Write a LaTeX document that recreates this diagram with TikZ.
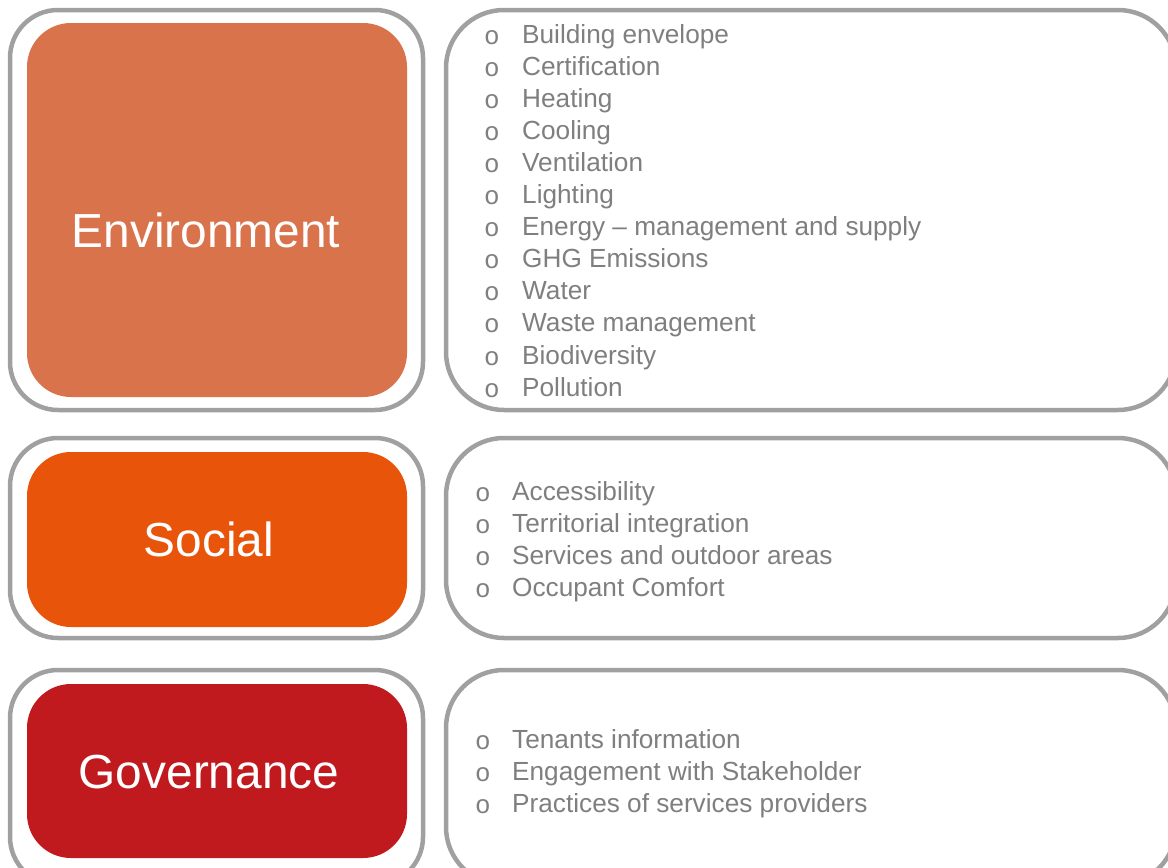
\documentclass[tikz,border=0pt]{standalone}
\usepackage{fontspec}
\setmainfont{Liberation Sans}
\newfontfamily\bulletfont{Liberation Mono}
\usetikzlibrary{positioning}
\definecolor{framegray}{HTML}{A0A0A0}
\definecolor{itemgray}{HTML}{7F7F7F}
\definecolor{envcolor}{HTML}{D8734C}
\definecolor{soccolor}{HTML}{E8540A}
\definecolor{govcolor}{HTML}{C0191E}
\tikzset{
  outerbox/.style={draw=framegray, line width=4.5bp, rounded corners=48bp, fill=white},
  itembox/.style={draw=framegray, line width=4.5bp, rounded corners=58bp, fill=white},
  pillarbox/.style={rounded corners=44bp, draw=none},
  pillar/.style={text=white, font=\fontsize{48}{56}\selectfont, anchor=base},
  itemtext/.style={text=itemgray, font=\fontsize{26.3}{32}\selectfont, anchor=base west, inner sep=0pt},
  bullettext/.style={text=itemgray, font=\bulletfont\fontsize{26}{32}\selectfont, anchor=base, inner sep=0pt}
}

\begin{document}
\begin{tikzpicture}[x=1bp,y=-1bp]
\useasboundingbox (0,0) rectangle (1168,868);
\clip (0,0) rectangle (1168,868);
% the frames
\draw[outerbox] (10,10) rectangle (423,410);
\draw[itembox] (446,10) rectangle (1176,410);
\draw[outerbox] (10,438) rectangle (423,638);
\draw[itembox] (446,438) rectangle (1176,638);
\draw[outerbox] (10,670) rectangle (423,885);
\draw[itembox] (446,670) rectangle (1176,885);
% the coloured pillars
\fill[pillarbox, envcolor] (27,23) rectangle (407,397);
\fill[pillarbox, soccolor] (27,452) rectangle (407,627);
\fill[pillarbox, govcolor] (27,684) rectangle (407,858);
\node[pillar] (env) at (206,247) {Environment};
\node[pillar] (soc) at (209,556) {Social};
\node[pillar] (gov) at (209,788) {Governance};
%     environment list
\foreach \t [count=\i] in {Building envelope, Certification, Heating, Cooling,
    Ventilation, Lighting, Energy -- management and supply, GHG Emissions,
    Water, Waste management, Biodiversity, Pollution}{
  \node[bullettext] (envb\i) at (492,{44+32.1*(\i-1)}) {o};
  \node[itemtext] (envi\i) at (522,{43+32.1*(\i-1)}) {\t};
}
%     social list
\foreach \t [count=\i] in {Accessibility, Territorial integration,
    Services and outdoor areas, Occupant Comfort}{
  \node[bullettext] (socb\i) at (483,{501+32*(\i-1)}) {o};
  \node[itemtext] (soci\i) at (512,{500+32*(\i-1)}) {\t};
}
%     governance list
\foreach \t [count=\i] in {Tenants information, Engagement with Stakeholder,
    Practices of services providers}{
  \node[bullettext] (govb\i) at (483,{749+32*(\i-1)}) {o};
  \node[itemtext] (govi\i) at (512,{748+32*(\i-1)}) {\t};
}
\end{tikzpicture}
\end{document}
